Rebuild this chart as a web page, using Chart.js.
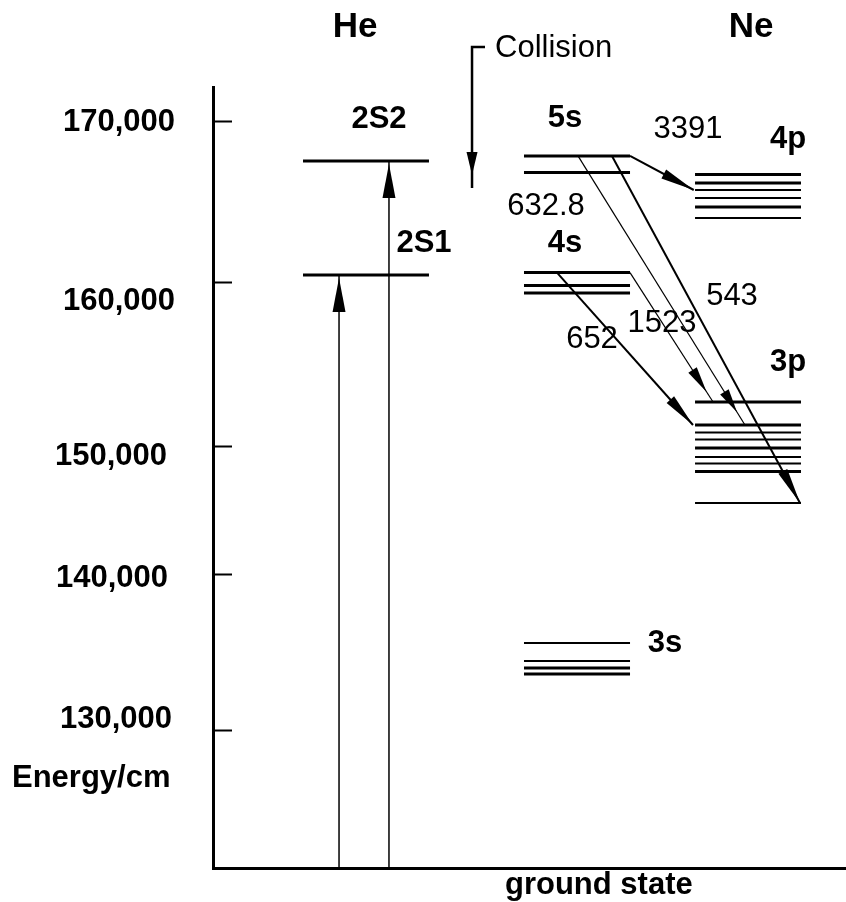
<!DOCTYPE html>
<html>
<head>
<meta charset="utf-8">
<title>He-Ne laser energy levels</title>
<script src="https://cdn.jsdelivr.net/npm/chart.js@4/dist/chart.umd.min.js"></script>
<style>
  html, body { margin: 0; padding: 0; background: #fff; }
  #wrap { width: 846px; height: 902px; position: relative; }
</style>
</head>
<body>
<div id="wrap"><canvas id="diagram"></canvas></div>
<script>
// ---- Energy levels (cm^-1) ----
const groundState = 0;
const heLevelNames = ['2S1', '2S2'];
const heLevels = [160440, 167560];
const ne5s = [167880, 166840];
const ne4s = [160590, 159790, 159330];
const ne4p = [166720, 166190, 165750, 165250, 164690, 164000];
const ne3p = [152680, 151280, 150820, 150400, 149840, 149140, 148630, 148010, 145550];
const ne3s = [135600, 134460, 134010, 133630];

// ---- Neon laser transitions: wavelength (nm), upper and lower sublevel ----
const transitionLabels = ['3391', '632.8', '543', '1523', '652'];
const transitionFrom = [['5s', 0], ['5s', 0], ['5s', 0], ['4s', 0], ['4s', 0]];
const transitionTo = [['4p', 2], ['3p', 1], ['3p', 8], ['3p', 0], ['3p', 1]];

// ---- Energy axis ticks ----
const energyTicks = [130000, 140000, 150000, 160000, 170000];
const energyTop = 172190;

// ---------------------------------------------------------------------------
// Drawing layout (horizontal positions are in percent of the plot width)
const columns = {
  he: [14.22, 34.12],
  neLeft: [49.13, 65.88],
  neRight: [76.15, 92.89]
};
const heArrowX = [19.91, 27.80];
const transitionX = [[65.88, 75.95], [57.66, 84.04], [63.03, 92.73], [65.88, 79.0], [54.34, 75.83]];
const transitionStyle = [
  { width: 2, head: { inset: 0, length: 34, half: 5 } },
  { width: 1.2, head: { inset: 15, length: 24, half: 5 } },
  { width: 2, head: { inset: 0, length: 36, half: 5 } },
  { width: 1.2, head: { inset: 12, length: 26, half: 5 } },
  { width: 2, head: { inset: 0, length: 34, half: 5 } }
];
const levelStroke = {
  He: [3, 3],
  '5s': [3, 3],
  '4s': [3, 3, 3],
  '4p': [3, 3, 2, 2, 3, 2],
  '3p': [3, 3, 2, 2, 3, 2, 2, 3, 2],
  '3s': [2, 2, 3, 3]
};
const levelsByName = { He: heLevels, '5s': ne5s, '4s': ne4s, '4p': ne4p, '3p': ne3p, '3s': ne3s };
const levelColumn = { He: 'he', '5s': 'neLeft', '4s': 'neLeft', '3s': 'neLeft', '4p': 'neRight', '3p': 'neRight' };

// The energy axis is drawn piecewise: the stretch from the ground state up to
// 130,000 is compressed, and each decade has its own spacing.
const axisKnots = [groundState, 130000, 140000, 150000, 160000, 170000, energyTop];
const axisKnotPos = [0, 0.17542, 0.37644, 0.54033, 0.75032, 0.95519, 1];
const tickLabelNudge = [[-3, -12], [-7, 4], [-8, 10], [0, 19], [0, 0]];

const FONT = '"Liberation Sans", Arial, Helvetica, sans-serif';

class PiecewiseEnergyScale extends Chart.LinearScale {
  static id = 'piecewiseEnergy';

  _frac(v) {
    const k = axisKnots, p = axisKnotPos;
    let i = 1;
    while (i < k.length - 1 && v > k[i]) i++;
    const t = (v - k[i - 1]) / (k[i] - k[i - 1]);
    return p[i - 1] + t * (p[i] - p[i - 1]);
  }
  getPixelForValue(value) {
    if (value === null || value === undefined || isNaN(value)) return NaN;
    return this.bottom - this._frac(value) * (this.bottom - this.top);
  }
  getValueForPixel(pixel) {
    const f = (this.bottom - pixel) / (this.bottom - this.top);
    const k = axisKnots, p = axisKnotPos;
    let i = 1;
    while (i < p.length - 1 && f > p[i]) i++;
    const t = (f - p[i - 1]) / (p[i] - p[i - 1]);
    return k[i - 1] + t * (k[i] - k[i - 1]);
  }
  _computeLabelItems(chartArea) {
    const items = super._computeLabelItems(chartArea);
    items.forEach((item, i) => {
      const n = tickLabelNudge[i];
      if (n && item.options && item.options.translation) {
        const tr = item.options.translation;
        item.options.translation = [tr[0] + n[0], tr[1] + n[1]];
      }
    });
    return items;
  }
}
Chart.register(PiecewiseEnergyScale);

// ---- Datasets ----
const datasets = [];

function segment(points, width, extra) {
  return Object.assign({
    type: 'line',
    data: points,
    borderColor: '#000',
    backgroundColor: '#000',
    borderWidth: width,
    borderCapStyle: 'butt',
    pointRadius: 0,
    pointHoverRadius: 0,
    fill: false,
    tension: 0
  }, extra || {});
}

// horizontal level lines
Object.keys(levelsByName).forEach(name => {
  const col = columns[levelColumn[name]];
  levelsByName[name].forEach((e, i) => {
    datasets.push(segment([{ x: col[0], y: e }, { x: col[1], y: e }], levelStroke[name][i]));
  });
});

// helium excitation from the ground state
heLevels.forEach((e, i) => {
  datasets.push(segment(
    [{ x: heArrowX[i], y: groundState }, { x: heArrowX[i], y: e }], 1.5,
    { arrowHead: { inset: 3, length: 34, half: 6.5 } }
  ));
});

// collisional energy transfer He(2S2) -> Ne(5s)
const collisionTop = 174690, collisionBottom = 165880;
datasets.push(segment(
  [{ x: 42.97, y: collisionTop }, { x: 40.92, y: collisionTop }, { x: 40.92, y: collisionBottom }], 2.5,
  { clip: false, arrowHead: { inset: 13, length: 23, half: 5.5 } }
));

// neon laser transitions
transitionLabels.forEach((lbl, i) => {
  const [fg, fi] = transitionFrom[i];
  const [tg, ti] = transitionTo[i];
  const st = transitionStyle[i];
  datasets.push(segment(
    [{ x: transitionX[i][0], y: levelsByName[fg][fi] }, { x: transitionX[i][1], y: levelsByName[tg][ti] }],
    st.width, { arrowHead: st.head }
  ));
});

// ---- Plugins ----
const arrowHeads = {
  id: 'arrowHeads',
  afterDatasetsDraw(chart) {
    const ctx = chart.ctx;
    chart.data.datasets.forEach((ds, i) => {
      if (!ds.arrowHead) return;
      const pts = chart.getDatasetMeta(i).data;
      const a = pts[pts.length - 2], b = pts[pts.length - 1];
      const dx = b.x - a.x, dy = b.y - a.y, len = Math.hypot(dx, dy) || 1;
      const ux = dx / len, uy = dy / len;
      const h = ds.arrowHead;
      const tx = b.x - ux * h.inset, ty = b.y - uy * h.inset;
      const bx = tx - ux * h.length, by = ty - uy * h.length;
      ctx.save();
      ctx.fillStyle = '#000';
      ctx.beginPath();
      ctx.moveTo(tx, ty);
      ctx.lineTo(bx - uy * h.half, by + ux * h.half);
      ctx.lineTo(bx + uy * h.half, by - ux * h.half);
      ctx.closePath();
      ctx.fill();
      ctx.restore();
    });
  }
};

// text annotations: [text, x, baseline, size, bold, align]
const annotations = [
  ['He', 355, 37, 35, true, 'center'],
  ['Ne', 751, 37, 35, true, 'center'],
  [heLevelNames[1], 379, 128, 31, true, 'center'],
  [heLevelNames[0], 424, 252, 31, true, 'center'],
  ['5s', 565, 127, 31, true, 'center'],
  ['4s', 565, 252, 31, true, 'center'],
  ['4p', 788, 148, 31, true, 'center'],
  ['3p', 788, 371, 31, true, 'center'],
  ['3s', 665, 652, 31, true, 'center'],
  [transitionLabels[0], 688, 138, 31, false, 'center'],
  [transitionLabels[1], 546, 215, 31, false, 'center'],
  [transitionLabels[2], 732, 305, 31, false, 'center'],
  [transitionLabels[3], 662, 332, 31, false, 'center'],
  [transitionLabels[4], 592, 348, 31, false, 'center'],
  ['Collision', 495, 57, 31, false, 'left'],
  ['Energy/cm', 12, 787, 31, true, 'left'],
  ['ground state', 505, 894, 31, true, 'left']
];

const textLayer = {
  id: 'textLayer',
  afterDraw(chart) {
    const ctx = chart.ctx;
    ctx.save();
    ctx.fillStyle = '#000';
    ctx.textBaseline = 'alphabetic';
    annotations.forEach(([t, x, y, size, bold, align]) => {
      ctx.font = (bold ? 'bold ' : '') + size + 'px ' + FONT;
      ctx.textAlign = align;
      ctx.fillText(t, x, y);
    });
    ctx.restore();
  }
};

new Chart(document.getElementById('diagram'), {
  type: 'line',
  data: { datasets },
  options: {
    responsive: true,
    maintainAspectRatio: false,
    animation: false,
    events: [],
    layout: { padding: { top: 87, left: 0, right: 0, bottom: 0 } },
    plugins: { legend: { display: false }, tooltip: { enabled: false }, title: { display: false } },
    scales: {
      x: {
        type: 'linear',
        min: 0,
        max: 100,
        afterFit: s => { s.height = 34; s.paddingLeft = 0; s.paddingRight = 0; },
        border: { display: true, color: '#000', width: 3 },
        grid: { display: false },
        ticks: { display: false }
      },
      y: {
        type: 'piecewiseEnergy',
        min: groundState,
        max: energyTop,
        afterBuildTicks: s => { s.ticks = energyTicks.map(v => ({ value: v })); },
        afterFit: s => { s.width = 213; s.paddingTop = 0; s.paddingBottom = 0; },
        border: { display: true, color: '#000', width: 3 },
        grid: { display: true, drawOnChartArea: false, drawTicks: true, tickLength: -19, tickWidth: 2, tickColor: '#000' },
        ticks: {
          autoSkip: false,
          padding: 57,
          color: '#000',
          font: { family: FONT, size: 31, weight: 'bold' },
          callback: v => Number(v).toLocaleString('en-US')
        }
      }
    }
  },
  plugins: [arrowHeads, textLayer]
});
</script>
</body>
</html>
